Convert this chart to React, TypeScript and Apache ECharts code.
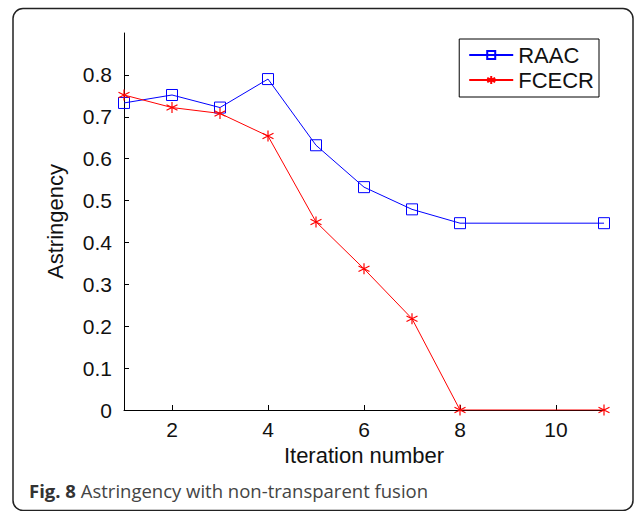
import React, { useEffect, useRef } from "react";
import * as echarts from "echarts";

const iterations = [1, 2, 3, 4, 5, 6, 7, 8, 11];
const raac = [0.733, 0.752, 0.722, 0.79, 0.632, 0.532, 0.479, 0.446, 0.446];
const fcecr = [0.752, 0.722, 0.708, 0.654, 0.449, 0.337, 0.218, 0, 0];
const xTicks = [2, 4, 6, 8, 10];
const yTicks = [0, 0.1, 0.2, 0.3, 0.4, 0.5, 0.6, 0.7, 0.8];

const ASTERISK =
  "path://M0,-5L0,5M-4.5,-2.5L4.5,2.5M-4.5,2.5L4.5,-2.5M0,-5";

export default function App() {
  const ref = useRef<HTMLDivElement>(null);
  useEffect(() => {
    document.body.style.margin = "0";
    const chart = echarts.init(ref.current!, null, { renderer: "svg" });
    const font = "'Liberation Sans', Arial, sans-serif";
    chart.setOption({
      animation: false,
      backgroundColor: "#fff",
      grid: { left: 124, right: 31, top: 33, bottom: 101, containLabel: false },
      legend: {
        right: 36,
        top: 39,
        orient: "vertical",
        borderColor: "#000",
        borderWidth: 1,
        borderRadius: 0,
        padding: [5, 5, 6, 9],
        itemGap: 3,
        itemWidth: 44,
        itemHeight: 10,
        textStyle: { fontFamily: font, fontSize: 22, color: "#111" },
        data: ["RAAC", "FCECR"],
      },
      xAxis: {
        type: "value",
        min: 1,
        max: 11,
        name: "Iteration number",
        nameLocation: "middle",
        nameGap: 26,
        nameTextStyle: { fontFamily: font, fontSize: 22, color: "#111" },
        axisLine: { show: true, onZero: false, lineStyle: { color: "#000", width: 1 } },
        axisTick: { show: true, inside: true, length: 5, customValues: xTicks, lineStyle: { color: "#000" } },
        axisLabel: { customValues: xTicks, fontFamily: font, fontSize: 21, color: "#111", margin: 9 },
        splitLine: { show: false },
      },
      yAxis: {
        type: "value",
        min: 0,
        max: 0.9,
        interval: 0.1,
        name: "Astringency",
        nameLocation: "middle",
        nameGap: 58,
        nameTextStyle: { fontFamily: font, fontSize: 22, color: "#111" },
        axisLine: { show: true, lineStyle: { color: "#000", width: 1 } },
        axisTick: { show: true, inside: true, length: 5, customValues: yTicks, lineStyle: { color: "#000" } },
        axisLabel: {
          customValues: yTicks,
          fontFamily: font,
          fontSize: 21,
          color: "#111",
          margin: 12,
          formatter: (v: number) => (v === 0 ? "0" : v.toFixed(1)),
        },
        splitLine: { show: false },
      },
      series: [
        {
          name: "RAAC",
          type: "line",
          data: iterations.map((x, i) => [x, raac[i]]),
          symbol: "rect",
          symbolSize: 11,
          showAllSymbol: true,
          lineStyle: { color: "#0000ff", width: 1 },
          itemStyle: { color: "transparent", borderColor: "#0000ff", borderWidth: 1 },
          z: 2,
        },
        {
          name: "FCECR",
          type: "line",
          data: iterations.map((x, i) => [x, fcecr[i]]),
          symbol: ASTERISK,
          symbolSize: 11,
          showAllSymbol: true,
          lineStyle: { color: "#ff0000", width: 1 },
          itemStyle: { color: "#ff0000", borderColor: "#ff0000", borderWidth: 1.2 },
          z: 3,
        },
      ],
      graphic: [
        {
          type: "rect",
          shape: { x: 13, y: 8.5, width: 620, height: 502, r: 10 },
          style: { fill: "none", stroke: "#222", lineWidth: 1.5 },
          silent: true,
        },
        {
          type: "text",
          x: 29,
          y: 490,
          style: {
            text: "{b|Fig. 8} Astringency with non-transparent fusion",
            rich: {
              b: { fontFamily: "'Open Sans', sans-serif", fontWeight: "bold", fontSize: 18.5, fill: "#333" },
            },
            fontFamily: "'Open Sans', sans-serif",
            fontSize: 18.5,
            fill: "#444",
            verticalAlign: "middle",
          },
        },
      ],
    });
    return () => chart.dispose();
  }, []);
  return <div ref={ref} style={{ width: 635, height: 511 }} />;
}
